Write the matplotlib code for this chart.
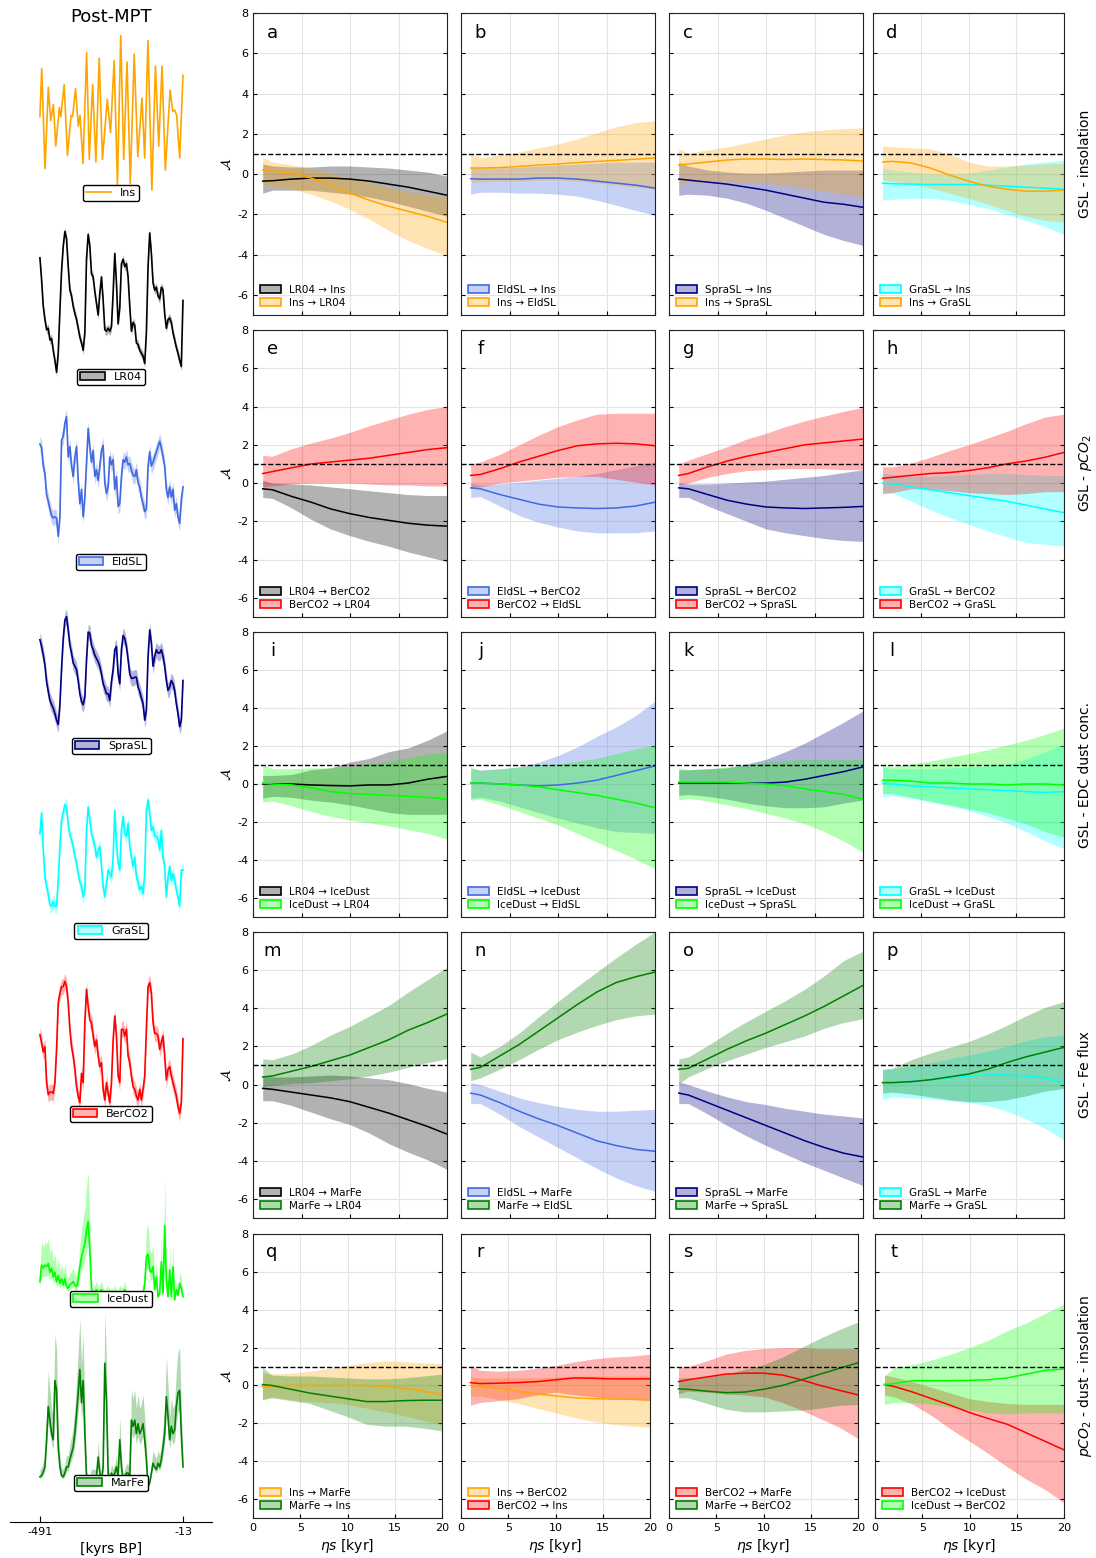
import matplotlib
matplotlib.use('Agg')
import matplotlib.pyplot as plt
from matplotlib.patches import Patch
from matplotlib.lines import Line2D
from matplotlib.colors import to_rgba
import numpy as np

plt.rcParams['axes.unicode_minus'] = False

W, H = 1096, 1558

colours = {'Ins': 'orange', 'LR04': 'black', 'EldSL': 'royalblue', 'SpraSL': 'navy',
           'GraSL': 'cyan', 'BerCO2': 'red', 'IceDust': 'lime', 'MarFe': 'green'}

# ---------------- left column: the records (post-MPT) ----------------
# insolation, W/m2, at its turning points
ins_t = [-491, -485, -474, -463, -455, -446, -438, -426, -421, -410, -399, -387, -382,
         -372, -363, -357, -347, -335, -326, -315, -304, -293, -282, -266, -255, -243,
         -232, -221, -211, -200, -189, -176, -164, -150, -141, -130, -117, -105, -94,
         -83, -72, -56, -47, -41, -34, -24, -13]
ins_v = [500, 536, 461, 522, 497, 509, 478, 507, 500, 524, 471, 501, 500,
         521, 493, 501, 465, 548, 468, 524, 466, 544, 468, 513, 488, 542,
         449, 561, 468, 541, 450, 547, 470, 514, 469, 557, 445, 538, 478,
         538, 460, 520, 504, 505, 501, 469, 531]

# other records, normalised (0-100), on a common time axis
rec_t = np.linspace(-491, -13, 87)
LR04 = [81, 66, 48, 39, 32, 33, 25, 26, 18, 11, 3, 16, 45, 72, 89, 99, 94, 75, 59, 55,
        48, 43, 39, 33, 27, 23, 18, 30, 80, 97, 89, 70, 68, 58, 50, 42, 57, 68, 52, 32,
        31, 33, 31, 34, 57, 84, 64, 36, 47, 77, 80, 75, 77, 68, 48, 31, 37, 35, 23, 22,
        18, 16, 14, 9, 30, 75, 98, 84, 64, 59, 61, 55, 53, 61, 59, 43, 33, 39, 40, 37,
        30, 25, 20, 16, 11, 7, 52]
EldSL = [79, 76, 62, 56, 40, 35, 29, 24, 22, 23, 22, 8, 23, 82, 85, 95, 100, 69, 77, 62,
         54, 69, 77, 51, 33, 44, 23, 38, 64, 91, 76, 65, 74, 54, 59, 51, 62, 74, 78, 49,
         41, 46, 69, 63, 67, 44, 54, 31, 33, 54, 67, 65, 69, 63, 64, 59, 55, 54, 59, 49,
         46, 38, 33, 27, 29, 62, 73, 62, 65, 69, 73, 77, 81, 76, 69, 62, 44, 38, 46, 38,
         44, 28, 33, 23, 18, 36, 46]
SpraSL = [79, 73, 65, 56, 41, 32, 24, 20, 17, 12, 6, 2, 20, 53, 80, 97, 100, 88, 74, 67,
          58, 55, 52, 42, 30, 23, 20, 27, 61, 86, 85, 74, 70, 65, 62, 59, 55, 48, 39, 35,
          30, 30, 24, 41, 52, 70, 73, 48, 39, 70, 83, 80, 73, 61, 48, 44, 44, 45, 45, 36,
          32, 26, 21, 6, 15, 64, 88, 76, 55, 64, 70, 67, 67, 70, 64, 55, 42, 33, 36, 42,
          39, 33, 21, 12, 0, 6, 42]
GraSL = [71, 89, 57, 34, 26, 19, 10, 9, 13, 9, 9, 31, 60, 83, 89, 96, 94, 79, 70, 66,
         60, 51, 46, 37, 30, 26, 17, 23, 74, 94, 83, 71, 66, 60, 51, 57, 60, 43, 26, 17,
         29, 40, 37, 34, 51, 91, 63, 46, 40, 74, 86, 71, 69, 80, 60, 51, 43, 51, 34, 29,
         23, 26, 20, 37, 91, 100, 89, 74, 77, 69, 69, 66, 57, 74, 51, 43, 17, 34, 43, 31,
         37, 31, 23, 17, 9, 40, 40]
BerCO2 = [59, 53, 46, 50, 23, 14, 16, 16, 15, 23, 48, 83, 90, 95, 95, 99, 95, 83, 63, 50,
          43, 33, 20, 13, 8, 30, 23, 68, 93, 80, 70, 68, 58, 50, 55, 43, 35, 38, 18, 10,
          23, 15, 8, 23, 55, 73, 58, 28, 23, 63, 63, 58, 63, 43, 38, 28, 20, 18, 13, 10,
          18, 10, 18, 28, 63, 95, 98, 90, 68, 60, 60, 58, 48, 53, 58, 43, 25, 33, 35, 28,
          23, 18, 13, 5, 0, 8, 56]
IceDust = [23, 44, 40, 44, 42, 46, 35, 40, 29, 35, 23, 31, 21, 27, 19, 27, 17, 15, 19, 21,
           23, 19, 17, 25, 42, 54, 63, 71, 88, 99, 63, 13, 8, 10, 13, 8, 10, 13, 8, 6,
           8, 10, 6, 8, 6, 10, 6, 6, 10, 8, 8, 13, 6, 6, 4, 4, 4, 4, 4, 4,
           4, 4, 8, 21, 54, 58, 38, 35, 42, 13, 29, 4, 8, 48, 8, 94, 25, 4, 38, 4,
           42, 0, 13, 6, 21, 15, 4]
MarFe = [8, 9, 12, 16, 38, 65, 54, 43, 38, 86, 78, 32, 16, 9, 8, 11, 16, 16, 22, 27,
         32, 43, 59, 76, 95, 68, 86, 43, 8, 3, 5, 8, 8, 8, 8, 24, 11, 5, 16, 100,
         70, 11, 5, 11, 8, 11, 16, 8, 38, 16, 5, 8, 11, 11, 8, 54, 49, 54, 43, 51,
         43, 46, 51, 38, 22, 0, 3, 11, 19, 16, 14, 19, 16, 22, 32, 43, 73, 57, 38, 49,
         43, 46, 65, 76, 78, 43, 16]

# uncertainty half-widths (absolute for sea level / CO2, relative for dust / Fe)
rec_err = {'LR04': 3, 'EldSL': 6, 'SpraSL': 7, 'GraSL': 6, 'BerCO2': 6}
rel_err = {'IceDust': 0.6, 'MarFe': 0.4}

# ---------------- right block: asymmetry A vs eta s ----------------
eta = [1, 2, 4, 6, 8, 10, 12, 14, 16, 18, 20]

a_fw = [-0.35, -0.33, -0.25, -0.2, -0.2, -0.25, -0.35, -0.5, -0.65, -0.85, -1.05]
a_fw_lo = [-0.95, -0.8, -0.8, -0.8, -0.9, -1.0, -1.15, -1.35, -1.6, -1.85, -2.1]
a_fw_hi = [0.5, 0.4, 0.35, 0.35, 0.4, 0.4, 0.35, 0.3, 0.2, 0.1, -0.1]
a_bw = [0.2, 0.15, 0.05, -0.2, -0.55, -0.95, -1.3, -1.6, -1.85, -2.1, -2.4]
a_bw_lo = [-0.55, -0.6, -0.75, -1.0, -1.35, -1.75, -2.25, -2.8, -3.3, -3.7, -4.05]
a_bw_hi = [0.85, 0.6, 0.45, 0.25, 0.05, -0.2, -0.45, -0.7, -0.9, -1.05, -1.2]

b_fw = [-0.23, -0.25, -0.25, -0.25, -0.2, -0.2, -0.25, -0.35, -0.45, -0.55, -0.7]
b_fw_lo = [-1.0, -0.9, -0.9, -0.95, -0.95, -1.0, -1.1, -1.3, -1.55, -1.8, -2.05]
b_fw_hi = [0.3, 0.3, 0.3, 0.35, 0.4, 0.45, 0.5, 0.55, 0.6, 0.6, 0.6]
b_bw = [0.3, 0.3, 0.32, 0.38, 0.45, 0.5, 0.57, 0.63, 0.68, 0.74, 0.8]
b_bw_lo = [-0.4, -0.4, -0.35, -0.35, -0.3, -0.3, -0.35, -0.45, -0.55, -0.65, -0.75]
b_bw_hi = [1.05, 0.8, 0.95, 1.1, 1.3, 1.5, 1.75, 2.05, 2.35, 2.55, 2.65]

c_fw = [-0.25, -0.3, -0.4, -0.5, -0.65, -0.8, -1.0, -1.2, -1.4, -1.5, -1.65]
c_fw_lo = [-1.05, -1.0, -1.05, -1.2, -1.45, -1.8, -2.2, -2.6, -3.0, -3.3, -3.55]
c_fw_hi = [0.6, 0.4, 0.2, 0.1, 0.05, 0.05, 0.1, 0.15, 0.2, 0.2, 0.2]
c_bw = [0.45, 0.5, 0.6, 0.7, 0.75, 0.75, 0.72, 0.75, 0.72, 0.7, 0.65]
c_bw_lo = [-0.6, -0.4, -0.4, -0.4, -0.4, -0.45, -0.55, -0.7, -0.85, -1.0, -1.15]
c_bw_hi = [1.25, 1.05, 1.2, 1.35, 1.55, 1.75, 1.95, 2.1, 2.2, 2.25, 2.3]

d_fw = [-0.45, -0.48, -0.5, -0.52, -0.52, -0.52, -0.55, -0.6, -0.65, -0.7, -0.75]
d_fw_lo = [-1.3, -1.25, -1.2, -1.2, -1.3, -1.5, -1.7, -2.0, -2.3, -2.6, -3.0]
d_fw_hi = [0.3, 0.2, 0.1, 0.0, 0.0, 0.05, 0.2, 0.35, 0.5, 0.6, 0.7]
d_bw = [0.6, 0.63, 0.55, 0.3, -0.05, -0.35, -0.6, -0.75, -0.85, -0.85, -0.8]
d_bw_lo = [-0.3, -0.35, -0.5, -0.7, -0.95, -1.2, -1.5, -1.8, -2.1, -2.3, -2.4]
d_bw_hi = [1.4, 1.35, 1.3, 1.25, 1.0, 0.6, 0.4, 0.4, 0.45, 0.5, 0.55]

e_fw = [-0.3, -0.35, -0.7, -1.0, -1.35, -1.6, -1.8, -1.95, -2.1, -2.2, -2.25]
e_fw_lo = [-0.75, -0.8, -1.3, -1.9, -2.4, -2.75, -3.05, -3.3, -3.6, -3.85, -4.1]
e_fw_hi = [0.15, 0.0, -0.05, -0.1, -0.2, -0.3, -0.4, -0.5, -0.6, -0.65, -0.65]
e_bw = [0.5, 0.6, 0.8, 1.0, 1.1, 1.2, 1.3, 1.45, 1.6, 1.75, 1.85]
e_bw_lo = [-0.2, -0.15, -0.05, 0.0, 0.0, 0.0, -0.05, -0.1, -0.1, -0.15, -0.15]
e_bw_hi = [1.45, 1.4, 1.8, 2.1, 2.35, 2.65, 3.0, 3.3, 3.6, 3.85, 4.0]

f_fw = [-0.25, -0.3, -0.6, -0.85, -1.1, -1.25, -1.3, -1.33, -1.3, -1.2, -1.0]
f_fw_lo = [-0.75, -0.7, -1.2, -1.7, -2.05, -2.3, -2.5, -2.6, -2.6, -2.6, -2.5]
f_fw_hi = [0.0, -0.1, -0.05, 0.05, 0.15, 0.25, 0.35, 0.5, 0.7, 0.9, 1.1]
f_bw = [0.4, 0.45, 0.75, 1.1, 1.4, 1.7, 1.95, 2.05, 2.08, 2.05, 1.95]
f_bw_lo = [-0.25, -0.2, 0.0, 0.1, 0.2, 0.3, 0.35, 0.35, 0.2, 0.05, -0.1]
f_bw_hi = [1.0, 1.1, 1.5, 2.0, 2.5, 2.95, 3.3, 3.6, 3.65, 3.65, 3.65]

g_fw = [-0.25, -0.3, -0.6, -0.9, -1.1, -1.25, -1.3, -1.33, -1.3, -1.27, -1.22]
g_fw_lo = [-0.75, -0.75, -1.2, -1.6, -2.0, -2.4, -2.6, -2.75, -2.9, -3.0, -3.05]
g_fw_hi = [0.0, -0.05, -0.05, 0.0, 0.05, 0.1, 0.2, 0.3, 0.4, 0.55, 0.7]
g_bw = [0.4, 0.5, 0.85, 1.15, 1.4, 1.6, 1.8, 2.0, 2.1, 2.2, 2.3]
g_bw_lo = [-0.1, 0.0, 0.3, 0.5, 0.65, 0.7, 0.75, 0.75, 0.75, 0.7, 0.7]
g_bw_hi = [1.0, 1.2, 1.55, 1.9, 2.3, 2.6, 2.95, 3.25, 3.5, 3.75, 3.95]

h_fw = [0.0, -0.05, -0.2, -0.35, -0.5, -0.65, -0.8, -0.95, -1.15, -1.35, -1.55]
h_fw_lo = [-0.55, -0.5, -0.95, -1.4, -1.8, -2.15, -2.5, -2.8, -3.1, -3.2, -3.3]
h_fw_hi = [0.55, 0.45, 0.35, 0.35, 0.4, 0.45, 0.5, 0.5, 0.45, 0.4, 0.4]
h_bw = [0.25, 0.3, 0.4, 0.5, 0.55, 0.65, 0.8, 1.0, 1.15, 1.35, 1.6]
h_bw_lo = [-0.55, -0.5, -0.3, -0.3, -0.4, -0.5, -0.55, -0.6, -0.55, -0.45, -0.45]
h_bw_hi = [0.85, 0.85, 1.05, 1.35, 1.7, 2.0, 2.35, 2.7, 3.1, 3.45, 3.6]

i_fw = [0.0, 0.0, 0.0, -0.05, -0.08, -0.1, -0.05, -0.05, 0.05, 0.25, 0.4]
i_fw_lo = [-0.75, -0.65, -0.7, -0.85, -0.95, -1.1, -1.3, -1.5, -1.6, -1.6, -1.6]
i_fw_hi = [0.45, 0.45, 0.5, 0.75, 0.85, 1.15, 1.35, 1.7, 1.9, 2.3, 2.8]
i_bw = [0.05, 0.0, -0.05, -0.2, -0.4, -0.5, -0.55, -0.6, -0.65, -0.7, -0.8]
i_bw_lo = [-0.95, -0.9, -1.15, -1.45, -1.7, -1.9, -2.05, -2.2, -2.4, -2.6, -2.9]
i_bw_hi = [1.05, 0.8, 0.8, 0.85, 0.85, 0.9, 1.05, 1.2, 1.4, 1.55, 1.7]

j_fw = [0.05, 0.05, 0.0, -0.05, -0.1, -0.05, 0.05, 0.2, 0.45, 0.7, 0.95]
j_fw_lo = [-0.75, -0.7, -0.9, -1.2, -1.5, -1.8, -2.05, -2.3, -2.5, -2.55, -2.6]
j_fw_hi = [0.8, 0.75, 0.8, 0.9, 1.15, 1.5, 1.95, 2.5, 3.0, 3.6, 4.35]
j_bw = [0.05, 0.05, 0.0, -0.05, -0.15, -0.3, -0.45, -0.6, -0.8, -1.0, -1.25]
j_bw_lo = [-0.85, -0.8, -1.1, -1.45, -1.8, -2.15, -2.6, -3.05, -3.5, -3.95, -4.45]
j_bw_hi = [0.9, 0.7, 0.8, 0.9, 1.0, 1.05, 1.2, 1.35, 1.6, 1.85, 2.05]

k_fw = [0.05, 0.05, 0.05, 0.05, 0.05, 0.05, 0.1, 0.25, 0.45, 0.65, 0.9]
k_fw_lo = [-0.6, -0.55, -0.65, -0.8, -1.0, -1.15, -1.25, -1.25, -1.2, -1.0, -0.85]
k_fw_hi = [0.75, 0.75, 0.8, 0.85, 1.05, 1.3, 1.7, 2.15, 2.7, 3.25, 3.85]
k_bw = [0.1, 0.1, 0.1, 0.1, 0.05, 0.0, -0.1, -0.25, -0.4, -0.55, -0.8]
k_bw_lo = [-0.85, -0.75, -0.9, -1.1, -1.3, -1.55, -1.8, -2.1, -2.5, -3.0, -3.6]
k_bw_hi = [0.85, 0.75, 0.8, 0.9, 1.0, 1.15, 1.25, 1.3, 1.3, 1.3, 1.3]

l_fw = [0.05, 0.0, -0.1, -0.15, -0.2, -0.25, -0.3, -0.35, -0.4, -0.45, -0.4]
l_fw_lo = [-0.7, -0.6, -0.75, -0.95, -1.15, -1.4, -1.7, -2.05, -2.5, -3.0, -3.4]
l_fw_hi = [0.9, 0.8, 0.8, 0.8, 0.85, 0.9, 0.95, 1.05, 1.3, 1.7, 2.1]
l_bw = [0.2, 0.2, 0.15, 0.05, 0.05, 0.0, 0.0, -0.05, 0.0, 0.0, -0.05]
l_bw_lo = [-0.5, -0.5, -0.7, -0.9, -1.1, -1.3, -1.5, -1.8, -2.1, -2.5, -2.8]
l_bw_hi = [1.05, 0.9, 1.05, 1.2, 1.4, 1.6, 1.8, 2.05, 2.3, 2.6, 2.95]

m_fw = [-0.2, -0.25, -0.4, -0.55, -0.7, -0.9, -1.2, -1.5, -1.85, -2.2, -2.6]
m_fw_lo = [-0.85, -0.85, -1.1, -1.45, -1.8, -2.1, -2.55, -3.1, -3.55, -3.95, -4.45]
m_fw_hi = [0.45, 0.4, 0.4, 0.45, 0.5, 0.45, 0.35, 0.25, 0.05, -0.2, -0.4]
m_bw = [0.4, 0.45, 0.7, 0.95, 1.25, 1.55, 1.95, 2.35, 2.85, 3.25, 3.7]
m_bw_lo = [-0.1, -0.05, 0.05, 0.1, 0.2, 0.3, 0.45, 0.65, 0.9, 1.15, 1.35]
m_bw_hi = [1.35, 1.3, 1.6, 2.05, 2.6, 3.05, 3.6, 4.15, 4.85, 5.5, 6.15]

n_fw = [-0.45, -0.55, -0.95, -1.4, -1.8, -2.15, -2.55, -2.95, -3.2, -3.4, -3.5]
n_fw_lo = [-1.0, -1.0, -1.55, -2.2, -2.75, -3.3, -3.85, -4.4, -4.9, -5.3, -5.6]
n_fw_hi = [0.1, 0.0, -0.35, -0.7, -0.95, -1.15, -1.3, -1.4, -1.4, -1.35, -1.3]
n_bw = [0.8, 0.9, 1.5, 2.1, 2.8, 3.5, 4.2, 4.85, 5.35, 5.65, 5.9]
n_bw_lo = [0.2, 0.35, 0.8, 1.3, 1.85, 2.35, 2.75, 3.1, 3.4, 3.6, 3.7]
n_bw_hi = [1.7, 1.45, 2.0, 2.7, 3.55, 4.35, 5.15, 5.9, 6.65, 7.35, 8.0]

o_fw = [-0.45, -0.55, -0.95, -1.35, -1.75, -2.15, -2.55, -2.95, -3.3, -3.6, -3.8]
o_fw_lo = [-1.0, -1.0, -1.55, -2.15, -2.7, -3.2, -3.65, -4.1, -4.5, -4.9, -5.3]
o_fw_hi = [0.15, 0.0, -0.35, -0.65, -0.9, -1.05, -1.25, -1.4, -1.55, -1.65, -1.75]
o_bw = [0.8, 0.85, 1.35, 1.85, 2.3, 2.7, 3.15, 3.6, 4.1, 4.65, 5.2]
o_bw_lo = [0.05, 0.4, 0.85, 1.25, 1.6, 1.95, 2.25, 2.55, 2.95, 3.25, 3.45]
o_bw_hi = [1.35, 1.45, 2.05, 2.7, 3.3, 3.85, 4.4, 5.0, 5.7, 6.5, 7.0]

p_fw = [0.1, 0.1, 0.15, 0.25, 0.35, 0.45, 0.5, 0.5, 0.45, 0.35, 0.1]
p_fw_lo = [-0.8, -0.65, -0.7, -0.75, -0.85, -0.95, -1.1, -1.4, -1.8, -2.3, -2.9]
p_fw_hi = [0.8, 0.8, 1.0, 1.15, 1.35, 1.55, 1.75, 2.0, 2.3, 2.5, 2.6]
p_bw = [0.1, 0.1, 0.15, 0.25, 0.4, 0.55, 0.8, 1.15, 1.45, 1.7, 1.95]
p_bw_lo = [-0.45, -0.4, -0.5, -0.65, -0.8, -0.9, -0.9, -0.8, -0.6, -0.35, -0.2]
p_bw_hi = [0.8, 0.85, 1.3, 1.65, 1.95, 2.25, 2.65, 3.1, 3.6, 4.05, 4.35]

q_fw = [-0.05, -0.05, 0.0, 0.0, 0.0, 0.0, 0.0, -0.05, -0.15, -0.3, -0.5]
q_fw_lo = [-0.75, -0.6, -0.75, -0.85, -0.9, -1.0, -1.2, -1.4, -1.6, -1.85, -2.1]
q_fw_hi = [0.65, 0.6, 0.65, 0.75, 0.9, 1.05, 1.2, 1.3, 1.25, 1.2, 1.15]
q_bw = [0.05, 0.0, -0.2, -0.4, -0.55, -0.7, -0.85, -0.85, -0.8, -0.78, -0.78]
q_bw_lo = [-0.75, -0.65, -0.8, -0.95, -1.3, -1.65, -2.05, -2.15, -2.15, -2.25, -2.4]
q_bw_hi = [0.95, 0.55, 0.5, 0.5, 0.45, 0.4, 0.35, 0.35, 0.4, 0.5, 0.6]

r_fw = [0.0, -0.05, -0.15, -0.3, -0.45, -0.55, -0.65, -0.7, -0.72, -0.72, -0.75]
r_fw_lo = [-0.6, -0.55, -0.75, -0.95, -1.2, -1.45, -1.7, -1.9, -2.05, -2.15, -2.2]
r_fw_hi = [0.45, 0.4, 0.4, 0.4, 0.4, 0.45, 0.5, 0.5, 0.5, 0.5, 0.5]
r_bw = [0.15, 0.1, 0.12, 0.15, 0.2, 0.3, 0.4, 0.38, 0.35, 0.35, 0.35]
r_bw_lo = [-1.05, -0.9, -0.8, -0.7, -0.5, -0.35, -0.5, -0.6, -0.7, -0.75, -0.8]
r_bw_hi = [1.05, 0.8, 0.75, 0.8, 0.9, 1.05, 1.25, 1.4, 1.5, 1.55, 1.65]

s_fw = [0.2, 0.3, 0.45, 0.6, 0.65, 0.65, 0.55, 0.3, 0.0, -0.25, -0.5]
s_fw_lo = [-0.45, -0.3, -0.35, -0.45, -0.5, -0.6, -0.9, -1.3, -1.75, -2.2, -2.8]
s_fw_hi = [0.95, 1.0, 1.3, 1.65, 1.85, 1.95, 2.0, 2.0, 1.95, 1.95, 1.95]
s_bw = [-0.18, -0.2, -0.3, -0.38, -0.35, -0.2, 0.0, 0.3, 0.6, 0.9, 1.2]
s_bw_lo = [-0.65, -0.65, -0.95, -1.25, -1.4, -1.4, -1.35, -1.3, -1.2, -1.05, -1.0]
s_bw_hi = [0.4, 0.4, 0.45, 0.6, 0.85, 1.1, 1.5, 2.0, 2.5, 2.95, 3.35]

t_fw = [0.05, -0.05, -0.35, -0.7, -1.05, -1.43, -1.75, -2.05, -2.5, -2.95, -3.4]
t_fw_lo = [-0.5, -0.6, -1.0, -1.6, -2.3, -2.95, -3.6, -4.3, -4.95, -5.5, -6.2]
t_fw_hi = [0.55, 0.45, 0.2, -0.1, -0.4, -0.7, -0.85, -0.95, -1.0, -1.0, -1.0]
t_bw = [0.05, 0.1, 0.25, 0.25, 0.25, 0.27, 0.3, 0.4, 0.6, 0.8, 0.87]
t_bw_lo = [-1.0, -0.9, -0.9, -1.0, -1.15, -1.3, -1.45, -1.5, -1.45, -1.45, -1.45]
t_bw_hi = [0.5, 0.95, 1.1, 1.35, 1.65, 2.0, 2.4, 2.9, 3.3, 3.8, 4.3]

panels = [
    ('a', 'LR04', 'Ins', a_fw, a_fw_lo, a_fw_hi, a_bw, a_bw_lo, a_bw_hi),
    ('b', 'EldSL', 'Ins', b_fw, b_fw_lo, b_fw_hi, b_bw, b_bw_lo, b_bw_hi),
    ('c', 'SpraSL', 'Ins', c_fw, c_fw_lo, c_fw_hi, c_bw, c_bw_lo, c_bw_hi),
    ('d', 'GraSL', 'Ins', d_fw, d_fw_lo, d_fw_hi, d_bw, d_bw_lo, d_bw_hi),
    ('e', 'LR04', 'BerCO2', e_fw, e_fw_lo, e_fw_hi, e_bw, e_bw_lo, e_bw_hi),
    ('f', 'EldSL', 'BerCO2', f_fw, f_fw_lo, f_fw_hi, f_bw, f_bw_lo, f_bw_hi),
    ('g', 'SpraSL', 'BerCO2', g_fw, g_fw_lo, g_fw_hi, g_bw, g_bw_lo, g_bw_hi),
    ('h', 'GraSL', 'BerCO2', h_fw, h_fw_lo, h_fw_hi, h_bw, h_bw_lo, h_bw_hi),
    ('i', 'LR04', 'IceDust', i_fw, i_fw_lo, i_fw_hi, i_bw, i_bw_lo, i_bw_hi),
    ('j', 'EldSL', 'IceDust', j_fw, j_fw_lo, j_fw_hi, j_bw, j_bw_lo, j_bw_hi),
    ('k', 'SpraSL', 'IceDust', k_fw, k_fw_lo, k_fw_hi, k_bw, k_bw_lo, k_bw_hi),
    ('l', 'GraSL', 'IceDust', l_fw, l_fw_lo, l_fw_hi, l_bw, l_bw_lo, l_bw_hi),
    ('m', 'LR04', 'MarFe', m_fw, m_fw_lo, m_fw_hi, m_bw, m_bw_lo, m_bw_hi),
    ('n', 'EldSL', 'MarFe', n_fw, n_fw_lo, n_fw_hi, n_bw, n_bw_lo, n_bw_hi),
    ('o', 'SpraSL', 'MarFe', o_fw, o_fw_lo, o_fw_hi, o_bw, o_bw_lo, o_bw_hi),
    ('p', 'GraSL', 'MarFe', p_fw, p_fw_lo, p_fw_hi, p_bw, p_bw_lo, p_bw_hi),
    ('q', 'Ins', 'MarFe', q_fw, q_fw_lo, q_fw_hi, q_bw, q_bw_lo, q_bw_hi),
    ('r', 'Ins', 'BerCO2', r_fw, r_fw_lo, r_fw_hi, r_bw, r_bw_lo, r_bw_hi),
    ('s', 'BerCO2', 'MarFe', s_fw, s_fw_lo, s_fw_hi, s_bw, s_bw_lo, s_bw_hi),
    ('t', 'BerCO2', 'IceDust', t_fw, t_fw_lo, t_fw_hi, t_bw, t_bw_lo, t_bw_hi),
]

row_labels = ['GSL - insolation', 'GSL - $pCO_2$', 'GSL - EDC dust conc.',
              'GSL - Fe flux', '$pCO_2$ - dust - insolation']

# ---------------- layout (pixels) ----------------
rows_px = [(13, 315), (330, 617), (632, 917), (932, 1218), (1234, 1518)]
cols_px = [(253, 447), (461, 655), (669, 863), (873, 1064)]
cols_px_last = [(253, 442), (461, 650), (669, 858), (875, 1064)]

fig = plt.figure(figsize=(W / 100, H / 100), dpi=100)


def px_axes(x0, y0, x1, y1):
    return fig.add_axes([x0 / W, 1 - y1 / H, (x1 - x0) / W, (y1 - y0) / H])


def band_patch(name):
    return Patch(facecolor=to_rgba(colours[name], 0.3), edgecolor=colours[name], lw=1.2)


# ---- left column
LEFT_XLIM = (-591, 84)
fig.text(111 / W, 1 - 17 / H, 'Post-MPT', ha='center', va='center', fontsize=13)

ax = px_axes(10, 35, 212, 190.7)
ax.plot(ins_t, ins_v, color=colours['Ins'], lw=1.2)
ax.set_xlim(*LEFT_XLIM)
ax.set_ylim(444.5, 561.25)
ax.axis('off')
ax.legend(handles=[Line2D([], [], color=colours['Ins'], lw=1.2)], labels=['Ins'],
          loc='center', bbox_to_anchor=(111 / W, 1 - 193 / H), bbox_transform=fig.transFigure,
          fontsize=8, edgecolor='black', framealpha=1, handlelength=2.2, borderpad=0.3)

records = [('LR04', LR04, 230, 376.7, 377), ('EldSL', EldSL, 416.7, 546.7, 562),
           ('SpraSL', SpraSL, 616.7, 726.7, 746), ('GraSL', GraSL, 800, 916.7, 931),
           ('BerCO2', BerCO2, 980, 1113.3, 1114), ('IceDust', IceDust, 1220.7, 1300, 1299),
           ('MarFe', MarFe, 1363.3, 1486.7, 1483)]

for name, vals, ytop, ybot, yleg in records:
    v = np.array(vals, dtype=float)
    if name in rel_err:
        lo = v * (1 - 0.5 * rel_err[name])
        hi = v * (1 + rel_err[name]) + 3
    else:
        lo = v - rec_err[name]
        hi = v + rec_err[name]
    ax = px_axes(10, ytop, 212, ybot)
    ax.fill_between(rec_t, lo, hi, color=colours[name], alpha=0.3, lw=0, clip_on=False)
    ax.plot(rec_t, v, color=colours[name], lw=1.2, clip_on=False)
    ax.set_xlim(*LEFT_XLIM)
    ax.set_ylim(0, 100)
    ax.axis('off')
    ax.legend(handles=[band_patch(name)], labels=[name], loc='center',
              bbox_to_anchor=(111 / W, 1 - yleg / H), bbox_transform=fig.transFigure,
              fontsize=8, edgecolor='black', framealpha=1, handlelength=2.2,
              borderpad=0.3)

axb = px_axes(10, 1521, 212, 1522)
axb.set_xlim(*LEFT_XLIM)
axb.set_yticks([])
for sp in ('left', 'right', 'top'):
    axb.spines[sp].set_visible(False)
axb.patch.set_visible(False)
axb.set_xticks([-491, -13])
axb.tick_params(axis='x', direction='in', length=4, labelsize=8)
axb.set_xlabel('[kyrs BP]', fontsize=10, labelpad=4)

# ---- asymmetry panels
for idx, (letter, src, tgt, fw, fw_lo, fw_hi, bw, bw_lo, bw_hi) in enumerate(panels):
    r, c = divmod(idx, 4)
    y0, y1 = rows_px[r]
    x0, x1 = (cols_px_last if r == 4 else cols_px)[c]
    ax = px_axes(x0, y0, x1, y1)

    ax.fill_between(eta, fw_lo, fw_hi, color=colours[src], alpha=0.3, lw=0)
    ax.fill_between(eta, bw_lo, bw_hi, color=colours[tgt], alpha=0.3, lw=0)
    ax.plot(eta, fw, color=colours[src], lw=1.1)
    ax.plot(eta, bw, color=colours[tgt], lw=1.1)
    ax.axhline(1, color='black', ls='--', lw=1)

    ax.set_xlim(0, 20)
    ax.set_ylim(-7, 8)
    ax.set_xticks([0, 5, 10, 15, 20])
    ax.set_yticks([-6, -4, -2, 0, 2, 4, 6, 8])
    ax.grid(color='#e3e3e3', lw=0.8)
    ax.set_axisbelow(True)
    ax.tick_params(direction='in', length=3, left=True, right=True, labelsize=8)
    for sp in ax.spines.values():
        sp.set_color('#222222')
    if c != 0:
        ax.set_yticklabels([])
    else:
        ax.set_ylabel(r'$\mathcal{A}$', fontsize=10, labelpad=2)
    if r != 4:
        ax.set_xticklabels([])
    else:
        ax.set_xlabel(r'$\eta s$ [kyr]', fontsize=10, labelpad=3)

    ax.text(0.1, 0.935, letter, transform=ax.transAxes, ha='center', va='center',
            fontsize=13)
    ax.legend(handles=[band_patch(src), band_patch(tgt)],
              labels=[f'{src} \u2192 {tgt}', f'{tgt} \u2192 {src}'],
              loc='lower left', frameon=False, fontsize=7.5, handlelength=2.0,
              handleheight=0.8, labelspacing=0.3, borderaxespad=0.3,
              handletextpad=0.8)

    if c == 3:
        fig.text(1085 / W, 1 - (y0 + y1) / 2 / H, row_labels[r], rotation=90,
                 ha='center', va='center', fontsize=10)

fig.savefig('out.png', dpi=100)
